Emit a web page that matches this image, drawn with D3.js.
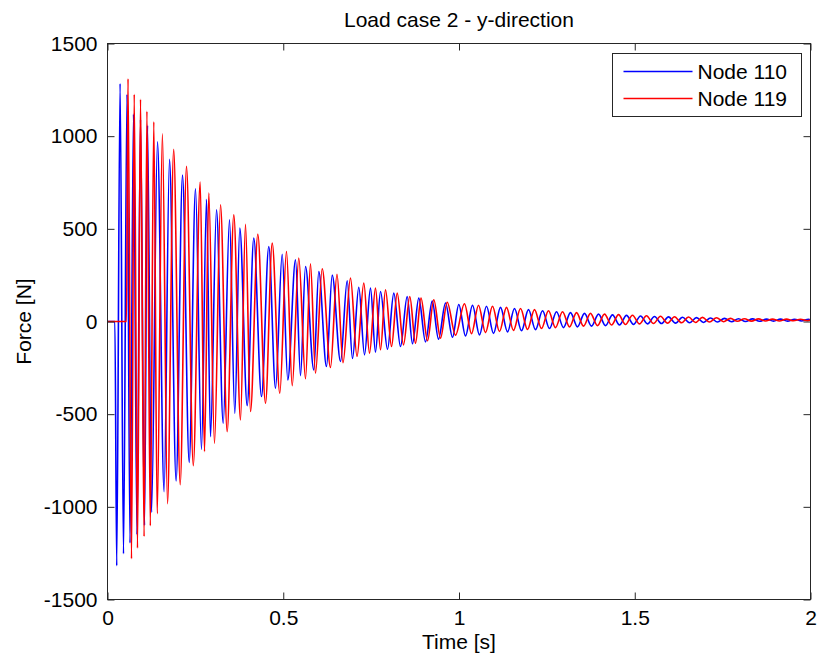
<!DOCTYPE html>
<meta charset="utf-8">
<script src="https://d3js.org/d3.v7.min.js"></script>
<style>
  body { margin: 0; background: #fff; }
  text { font-family: "Liberation Sans", Arial, Helvetica, sans-serif; fill: #000; }
</style>
<div id="my_dataviz"></div>
<script>

// Node 110 (blue): turning points
var node110Time = [0, 0.021, 0.0262, 0.0358, 0.0455, 0.0555, 0.0640, 0.0740, 0.0839, 0.0939,
  0.1053, 0.1138, 0.1252, 0.1422, 0.1610, 0.1764, 0.1952, 0.2134, 0.2324, 0.2504,
  0.2674, 0.2817, 0.2930, 0.3101, 0.3292, 0.3471, 0.3622, 0.3764, 0.3974, 0.4162,
  0.4381, 0.4589, 0.4780, 0.4970, 0.5129, 0.5349, 0.5491, 0.5633, 0.5869, 0.6011,
  0.6230, 0.6393, 0.6629, 0.6819, 0.6970, 0.7149, 0.7312, 0.7482, 0.7624, 0.7767,
  0.7966, 0.8145, 0.8336, 0.8526, 0.8677, 0.8856, 0.9047, 0.9238, 0.9417, 0.9616,
  0.9815, 0.9994, 1.0185, 1.0384, 1.0583, 1.0782, 1.0982, 1.1181, 1.1380, 1.1579,
  1.1778, 1.1977, 1.2176, 1.2376, 1.2575, 1.2774, 1.2973, 1.3172, 1.3371, 1.3570,
  1.3770, 1.3969, 1.4168, 1.4367, 1.4566, 1.4765, 1.4964, 1.5164, 1.5363, 1.5562,
  1.5761, 1.5960, 1.6159, 1.6358, 1.6558, 1.6757, 1.6956, 1.7155, 1.7354, 1.7553,
  1.7752, 1.7952, 1.8151, 1.8350, 1.8549, 1.8748, 1.8947, 1.9146, 1.9346, 1.9545,
  1.9744, 1.9943, 2.0];
var node110Force = [0, 0, -1318, 1284, -1253, 1226, -1195, 1120, -1150, 1090,
  -1100, 1058, -1030, 970, -918, 875, -861, 790, -760, 716,
  -690, 660, -621, 603, -549, 549, -495, 504, -454, 450,
  -405, 405, -360, 363, -315, 333, -292, 297, -261, 270,
  -243, 250, -216, 220, -200, 185, -180, 180, -165, 162,
  -150, 153, -135, 135, -120, 126, -110, 110, -95, 100,
  -85, 92, -78, 88, -72, 82, -64, 76, -56, 70,
  -50, 64, -44, 58, -38, 53, -33, 48, -29, 44,
  -25, 40, -22, 36, -19, 33, -16, 30, -13, 27,
  -11, 25, -9, 23, -7, 21, -5, 19, -3, 17,
  -1, 15, 0, 14, 1, 13, 2, 13, 2, 12,
  3, 12, 8];

// Node 119 (red)
var node119Time = [0, 0.054, 0.0583, 0.0683, 0.0760, 0.0853, 0.0939, 0.1041, 0.1121, 0.1218,
  0.1317, 0.1414, 0.1562, 0.1707, 0.1883, 0.2068, 0.2248, 0.2441, 0.2637, 0.2760,
  0.2882, 0.3044, 0.3215, 0.3405, 0.3593, 0.3784, 0.3926, 0.4068, 0.4276, 0.4495,
  0.4686, 0.4902, 0.5092, 0.5255, 0.5442, 0.5633, 0.5775, 0.5917, 0.6108, 0.6344,
  0.6529, 0.6700, 0.6913, 0.7098, 0.7292, 0.7454, 0.7624, 0.7767, 0.7909, 0.8080,
  0.8242, 0.8421, 0.8600, 0.8762, 0.8919, 0.9104, 0.9283, 0.9474, 0.9664, 0.9900,
  1.0156, 1.0356, 1.0555, 1.0754, 1.0953, 1.1152, 1.1351, 1.1550, 1.1750, 1.1949,
  1.2148, 1.2347, 1.2546, 1.2745, 1.2945, 1.3144, 1.3343, 1.3542, 1.3741, 1.3940,
  1.4139, 1.4339, 1.4538, 1.4737, 1.4936, 1.5135, 1.5334, 1.5533, 1.5733, 1.5932,
  1.6131, 1.6330, 1.6529, 1.6728, 1.6927, 1.7127, 1.7326, 1.7525, 1.7724, 1.7923,
  1.8122, 1.8321, 1.8521, 1.8720, 1.8919, 1.9118, 1.9317, 1.9516, 1.9716, 1.9915,
  2.0];
var node119Force = [0, 0, 1310, -1280, 1226, -1223, 1199, -1160, 1134, -1102,
  1078, -1037, 1013, -983, 929, -880, 837, -778, 753, -702,
  693, -657, 630, -594, 576, -531, 525, -486, 471, -441,
  423, -387, 378, -346, 342, -309, 312, -279, 285, -248,
  255, -222, 234, -189, 207, -171, 180, -153, 171, -135,
  153, -126, 135, -117, 126, -104, 117, -90, 104, -74,
  96, -66, 88, -60, 82, -54, 76, -48, 70, -43,
  64, -38, 58, -33, 53, -29, 48, -25, 44, -22,
  40, -19, 37, -16, 34, -13, 31, -11, 28, -9,
  26, -7, 24, -5, 22, -3, 20, -1, 17, 1,
  15, 2, 14, 3, 13, 3, 13, 4, 12, 4,
  8];

var seriesNames = ["Node 110", "Node 119"];
var seriesColors = ["#0000ff", "#ff0000"];
var xTicks = [0, 0.5, 1, 1.5, 2];
var yTicks = [-1500, -1000, -500, 0, 500, 1000, 1500];

// set the dimensions and margins of the graph
var margin = {top: 43, right: 9, bottom: 62, left: 107},
    width = 819 - margin.left - margin.right,
    height = 661 - margin.top - margin.bottom;

var svg = d3.select("#my_dataviz")
  .append("svg")
    .attr("width", width + margin.left + margin.right)
    .attr("height", height + margin.top + margin.bottom)
  .append("g")
    .attr("transform", "translate(" + (margin.left + 0.5) + "," + (margin.top + 0.5) + ")");

var x = d3.scaleLinear().domain([0, 2]).range([0, width]);
var y = d3.scaleLinear().domain([-1500, 1500]).range([height, 0]);

var series = [
  d3.zip(node110Time, node110Force),
  d3.zip(node119Time, node119Force)
];

var line = d3.line()
  .x(function(d) { return x(d[0]); })
  .y(function(d) { return y(d[1]); })
  .curve(d3.curveMonotoneX);

svg.append("clipPath").attr("id", "clip")
  .append("rect").attr("width", width).attr("height", height);

svg.selectAll(".series")
  .data(series)
  .enter()
  .append("path")
    .attr("class", "series")
    .attr("clip-path", "url(#clip)")
    .attr("d", line)
    .attr("fill", "none")
    .style("stroke", function(d, i) { return seriesColors[i]; })
    .style("stroke-width", 1.6);

// axes, ticks pointing inward on all four sides
var fontSize = "21px";
var axisColor = "#262626";
var plain = function(d) { return String(d); };

function styleAxis(g) {
  g.select(".domain").remove();
  g.selectAll("line").attr("stroke", axisColor);
  g.selectAll("text").style("font-size", fontSize).attr("fill", "#000");
}

svg.append("g")
  .attr("transform", "translate(0," + height + ")")
  .call(d3.axisBottom(x).tickValues(xTicks).tickFormat(plain).tickSize(-7).tickSizeOuter(0).tickPadding(11))
  .call(styleAxis);

svg.append("g")
  .call(d3.axisTop(x).tickValues(xTicks).tickFormat("").tickSize(-7).tickSizeOuter(0))
  .call(styleAxis);

svg.append("g")
  .call(d3.axisLeft(y).tickValues(yTicks).tickFormat(plain).tickSize(-7).tickSizeOuter(0).tickPadding(10))
  .call(styleAxis);

svg.append("g")
  .attr("transform", "translate(" + width + ",0)")
  .call(d3.axisRight(y).tickValues(yTicks).tickFormat("").tickSize(-7).tickSizeOuter(0))
  .call(styleAxis);

svg.append("rect")
  .attr("width", width)
  .attr("height", height)
  .attr("fill", "none")
  .attr("stroke", axisColor)
  .attr("stroke-width", 1);

// labels
svg.append("text")
  .attr("x", width / 2)
  .attr("y", -17)
  .attr("text-anchor", "middle")
  .style("font-size", fontSize)
  .text("Load case 2 - y-direction");

svg.append("text")
  .attr("x", width / 2)
  .attr("y", height + 49)
  .attr("text-anchor", "middle")
  .style("font-size", fontSize)
  .text("Time [s]");

svg.append("text")
  .attr("transform", "translate(-77," + y(0) + ") rotate(-90)")
  .attr("text-anchor", "middle")
  .style("font-size", fontSize)
  .text("Force [N]");

// legend
var legend = svg.append("g")
  .attr("transform", "translate(" + (width - 198) + ",10)");

legend.append("rect")
  .attr("width", 189)
  .attr("height", 63)
  .attr("fill", "#fff")
  .attr("stroke", axisColor);

seriesNames.forEach(function(name, i) {
  var ly = 18 + i * 27;
  legend.append("line")
    .attr("x1", 11).attr("x2", 80)
    .attr("y1", ly).attr("y2", ly)
    .style("stroke", seriesColors[i])
    .style("stroke-width", 1.5);
  legend.append("text")
    .attr("x", 85)
    .attr("y", ly)
    .attr("dy", "0.35em")
    .style("font-size", fontSize)
    .text(name);
});

</script>
